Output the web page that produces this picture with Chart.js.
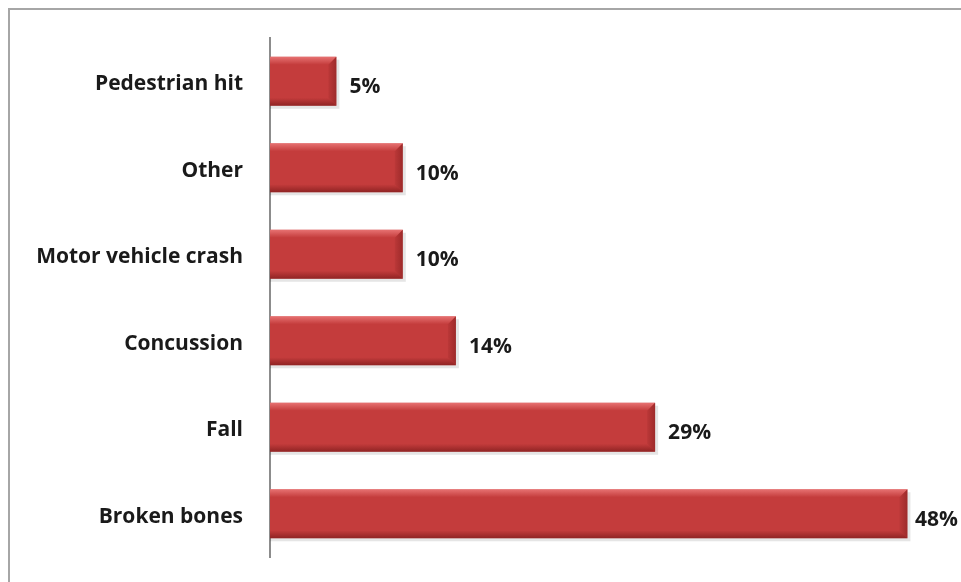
<!DOCTYPE html>
<html lang="en">
<head>
    <meta charset="UTF-8">
    <title>Injury causes</title>
    <script src="https://cdn.jsdelivr.net/npm/chart.js"></script>
    <style>
        html, body {
            margin: 0;
            padding: 0;
            background: #ffffff;
        }
        .wrap {
            width: 961px;
            height: 582px;
        }
    </style>
</head>
<body>
    <div class="wrap">
        <canvas id="injuryChart" width="961" height="582"></canvas>
    </div>

    <script>
        const categories = ["Pedestrian hit", "Other", "Motor vehicle crash", "Concussion", "Fall", "Broken bones"];
        const percentages = [5, 10, 10, 14, 29, 48];

        const FONT = "'Open Sans', 'Noto Sans', sans-serif";

        // grey frame on top and left, like the original picture
        const framePlugin = {
            id: "frame",
            beforeDraw(chart) {
                const ctx = chart.ctx;
                ctx.save();
                ctx.strokeStyle = "#a6a6a6";
                ctx.lineWidth = 2;
                ctx.beginPath();
                ctx.moveTo(9, chart.height);
                ctx.lineTo(9, 9);
                ctx.lineTo(chart.width, 9);
                ctx.stroke();
                ctx.restore();
            }
        };

        // bevel edges + percentage labels
        const barPlugin = {
            id: "bevel",
            afterDatasetsDraw(chart) {
                const ctx = chart.ctx;
                const meta = chart.getDatasetMeta(0);
                ctx.save();
                meta.data.forEach((bar, i) => {
                    const top = bar.y - bar.height / 2;
                    const bottom = bar.y + bar.height / 2;
                    const left = bar.base;
                    const right = bar.x;
                    const b = 8;
                    // top bevel
                    let g = ctx.createLinearGradient(0, top, 0, top + b);
                    g.addColorStop(0, "rgba(255,150,150,0.6)");
                    g.addColorStop(1, "rgba(255,150,150,0)");
                    ctx.fillStyle = g;
                    ctx.beginPath();
                    ctx.moveTo(left, top);
                    ctx.lineTo(right, top);
                    ctx.lineTo(right - b, top + b);
                    ctx.lineTo(left, top + b);
                    ctx.fill();
                    // bottom bevel
                    g = ctx.createLinearGradient(0, bottom - b, 0, bottom);
                    g.addColorStop(0, "rgba(100,15,15,0)");
                    g.addColorStop(1, "rgba(100,15,15,0.55)");
                    ctx.fillStyle = g;
                    ctx.beginPath();
                    ctx.moveTo(left, bottom);
                    ctx.lineTo(right, bottom);
                    ctx.lineTo(right - b, bottom - b);
                    ctx.lineTo(left, bottom - b);
                    ctx.fill();
                    // right bevel
                    g = ctx.createLinearGradient(right - b, 0, right, 0);
                    g.addColorStop(0, "rgba(110,20,20,0.1)");
                    g.addColorStop(1, "rgba(110,20,20,0.45)");
                    ctx.fillStyle = g;
                    ctx.beginPath();
                    ctx.moveTo(right, top);
                    ctx.lineTo(right, bottom);
                    ctx.lineTo(right - b, bottom - b);
                    ctx.lineTo(right - b, top + b);
                    ctx.fill();
                    // soft shadow under bar
                    ctx.fillStyle = "rgba(0,0,0,0.10)";
                    ctx.fillRect(left, bottom, right - left + 3, 3);
                    ctx.fillRect(right, top + 3, 3, bottom - top - 3);

                    // value label, pulled in if it would run off the canvas
                    const txt = percentages[i] + "%";
                    ctx.fillStyle = "#1a1a1a";
                    ctx.font = "bold 21px " + FONT;
                    ctx.textAlign = "left";
                    ctx.textBaseline = "middle";
                    const w = ctx.measureText(txt).width;
                    const tx = Math.min(right + 13, chart.width - w - 3);
                    ctx.fillText(txt, tx, bar.y + 6);
                });
                ctx.restore();
            }
        };

        new Chart(document.getElementById("injuryChart"), {
            type: "bar",
            data: {
                labels: categories,
                datasets: [{
                    data: percentages,
                    barPercentage: 1,
                    categoryPercentage: 0.567,
                    backgroundColor(context) {
                        const bar = context.element;
                        const chart = context.chart;
                        if (!bar || !bar.height) return "#c43c3c";
                        const top = bar.y - bar.height / 2;
                        const g = chart.ctx.createLinearGradient(0, top, 0, top + bar.height);
                        g.addColorStop(0, "#d84c4c");
                        g.addColorStop(0.5, "#c63c3c");
                        g.addColorStop(1, "#bb3737");
                        return g;
                    },
                    borderWidth: 0
                }]
            },
            options: {
                indexAxis: "y",
                responsive: false,
                animation: false,
                layout: {
                    padding: { top: 38, right: 27, bottom: 25, left: 0 }
                },
                plugins: {
                    legend: { display: false },
                    tooltip: { enabled: false }
                },
                scales: {
                    x: {
                        display: false,
                        min: 0,
                        max: 50
                    },
                    y: {
                        afterFit(scale) {
                            scale.width = 270;
                            scale.paddingTop = 0;
                            scale.paddingBottom = 0;
                        },
                        grid: { display: false, drawTicks: false },
                        border: { display: true, color: "#8c8c8c", width: 2 },
                        ticks: {
                            color: "#1a1a1a",
                            padding: 27,
                            labelOffset: 3,
                            font: { family: FONT, size: 21, weight: "bold" }
                        }
                    }
                }
            },
            plugins: [framePlugin, barPlugin]
        });
    </script>
</body>
</html>
